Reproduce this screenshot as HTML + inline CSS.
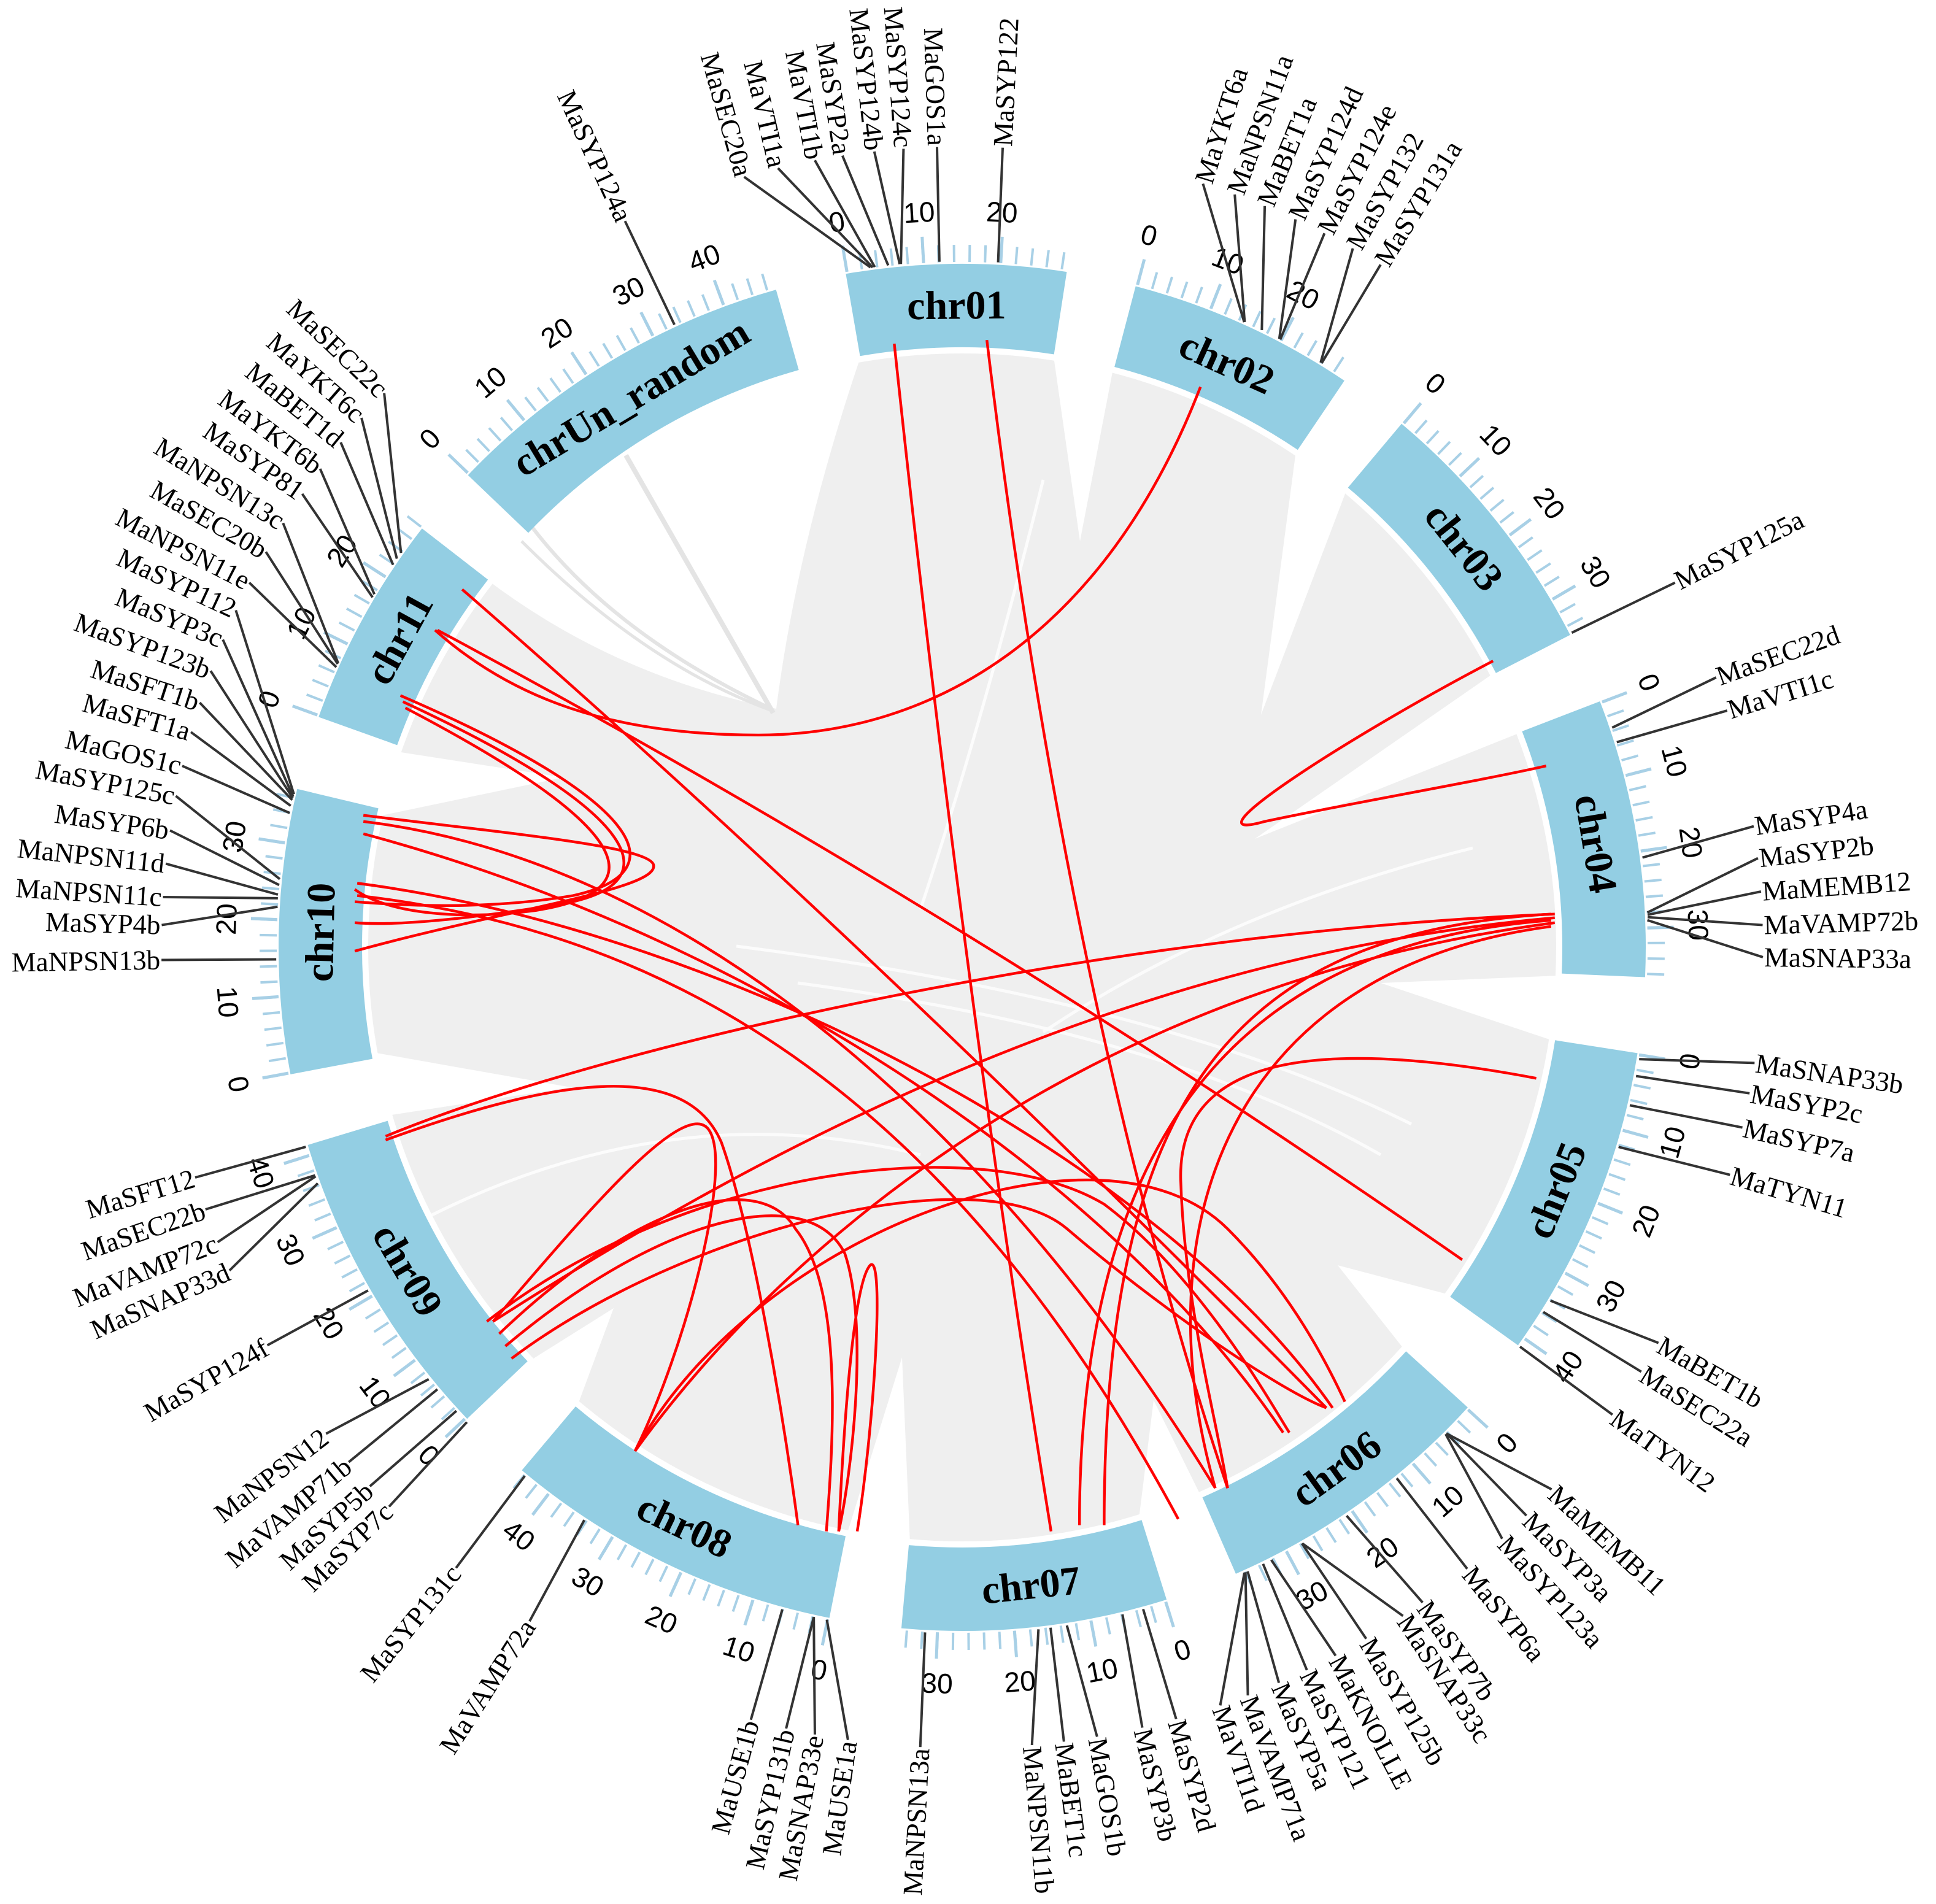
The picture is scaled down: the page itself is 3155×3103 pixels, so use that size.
<!DOCTYPE html>
<html><head><meta charset="utf-8"><style>
html,body{margin:0;padding:0;background:#fff}
svg{display:block}
.g{font-family:"Liberation Serif",serif;font-size:45px;fill:#000}
.t{font-family:"Liberation Sans",sans-serif;font-size:46px;fill:#000}
.c{font-family:"Liberation Serif",serif;font-size:66px;font-weight:bold;fill:#000}
.ln{stroke:#333;stroke-width:4;fill:none}
.blk{fill:none;stroke:#93cee3;stroke-width:136}
.ts{fill:none;stroke:#a8d0e6;stroke-width:28}
.tl{fill:none;stroke:#a8d0e6;stroke-width:43}
.rd{fill:none;stroke:#f00;stroke-width:2.2}
</style></head><body>
<svg xmlns="http://www.w3.org/2000/svg" width="3155" height="3103" viewBox="0 0 3155 3103">
<rect width="3155" height="3103" fill="#fff"/>
<!-- ribbons background -->
<circle cx="1568" cy="1544" r="968" fill="#efefef"/>
<g fill="#fff">
<path d="M1717,581 L1760,882 L1814,601 Z"/>
<path d="M2112,735 L2055,1165 L2195,797 Z"/>
<path d="M2430,1100 L2045,1367 L2475,1195 Z"/>
<path d="M2540,1590 L2250,1602 L2528,1695 Z"/>
<path d="M2362,2110 L2180,2062 L2289,2200 Z"/>
<path d="M1957,2438 L1880,2282 L1856,2475 Z"/>
<path d="M1483,2515 L1470,2212 L1380,2501 Z"/>
<path d="M941,2291 L1000,2132 L863,2218 Z"/>
<path d="M632,1818 L930,1772 L608,1715 Z"/>
<path d="M617,1330 L918,1267 L647,1225 Z"/>
<path d="M790,942 Q1000,1102 1265,1155 Q1300,882 1404,577 L1240,602 L1066,702 L900,822 Z"/>
</g>
<g fill="none" stroke="#e4e4e4">
<path d="M1020,742 L1260,1162" stroke-width="8"/>
<path d="M867,859 Q1000,1032 1250,1152" stroke-width="6"/>
<path d="M850,882 Q1050,1082 1255,1157" stroke-width="5"/>
</g>
<g fill="none" stroke="#fff" stroke-width="5" opacity="0.8">
<path d="M2250,1882 Q1900,1682 1300,1602"/>
<path d="M2300,1832 Q1900,1632 1200,1542"/>
<path d="M700,1982 Q1100,1782 1500,1882"/>
<path d="M1700,782 Q1600,1182 1500,1482"/>
<path d="M2400,1382 Q2000,1482 1700,1682"/>
</g>

<!-- chromosome blocks -->
<g>
<circle class="blk" cx="1568" cy="1544" r="1046" stroke-dasharray="339.6 9000" transform="rotate(-99.8 1568 1544)"/>
<circle class="blk" cx="1568" cy="1544" r="1046" stroke-dasharray="352.3 9000" transform="rotate(-75.3 1568 1544)"/>
<circle class="blk" cx="1568" cy="1544" r="1046" stroke-dasharray="416.2 9000" transform="rotate(-50 1568 1544)"/>
<circle class="blk" cx="1568" cy="1544" r="1046" stroke-dasharray="430.8 9000" transform="rotate(-21.1 1568 1544)"/>
<circle class="blk" cx="1568" cy="1544" r="1046" stroke-dasharray="487.4 9000" transform="rotate(8.9 1568 1544)"/>
<circle class="blk" cx="1568" cy="1544" r="1046" stroke-dasharray="440.0 9000" transform="rotate(42.3 1568 1544)"/>
<circle class="blk" cx="1568" cy="1544" r="1046" stroke-dasharray="410.8 9000" transform="rotate(72.6 1568 1544)"/>
<circle class="blk" cx="1568" cy="1544" r="1046" stroke-dasharray="527.6 9000" transform="rotate(101.2 1568 1544)"/>
<circle class="blk" cx="1568" cy="1544" r="1046" stroke-dasharray="489.3 9000" transform="rotate(136.4 1568 1544)"/>
<circle class="blk" cx="1568" cy="1544" r="1046" stroke-dasharray="440.0 9000" transform="rotate(169.3 1568 1544)"/>
<circle class="blk" cx="1568" cy="1544" r="1046" stroke-dasharray="330.4 9000" transform="rotate(199.7 1568 1544)"/>
<circle class="blk" cx="1568" cy="1544" r="1046" stroke-dasharray="556.8 9000" transform="rotate(223.7 1568 1544)"/>
</g>

<!-- short ticks -->
<g>
<circle class="ts" cx="1568" cy="1544" r="1131" transform="rotate(-99.8 1568 1544)" stroke-dasharray="4 21.46 4 21.46 4 21.46 4 21.46 4 21.46 4 21.46 4 21.46 4 21.46 4 21.46 4 21.46 4 21.46 4 21.46 4 21.46 4 21.46 4 9000"/>
<circle class="ts" cx="1568" cy="1544" r="1131" transform="rotate(-75.3 1568 1544)" stroke-dasharray="4 21.46 4 21.46 4 21.46 4 21.46 4 21.46 4 21.46 4 21.46 4 21.46 4 21.46 4 21.46 4 21.46 4 21.46 4 21.46 4 21.46 4 9000"/>
<circle class="ts" cx="1568" cy="1544" r="1131" transform="rotate(-50 1568 1544)" stroke-dasharray="4 21.46 4 21.46 4 21.46 4 21.46 4 21.46 4 21.46 4 21.46 4 21.46 4 21.46 4 21.46 4 21.46 4 21.46 4 21.46 4 21.46 4 21.46 4 21.46 4 21.46 4 9000"/>
<circle class="ts" cx="1568" cy="1544" r="1131" transform="rotate(-21.1 1568 1544)" stroke-dasharray="4 21.46 4 21.46 4 21.46 4 21.46 4 21.46 4 21.46 4 21.46 4 21.46 4 21.46 4 21.46 4 21.46 4 21.46 4 21.46 4 21.46 4 21.46 4 21.46 4 21.46 4 21.46 4 9000"/>
<circle class="ts" cx="1568" cy="1544" r="1131" transform="rotate(8.9 1568 1544)" stroke-dasharray="4 21.46 4 21.46 4 21.46 4 21.46 4 21.46 4 21.46 4 21.46 4 21.46 4 21.46 4 21.46 4 21.46 4 21.46 4 21.46 4 21.46 4 21.46 4 21.46 4 21.46 4 21.46 4 21.46 4 21.46 4 9000"/>
<circle class="ts" cx="1568" cy="1544" r="1131" transform="rotate(42.3 1568 1544)" stroke-dasharray="4 21.46 4 21.46 4 21.46 4 21.46 4 21.46 4 21.46 4 21.46 4 21.46 4 21.46 4 21.46 4 21.46 4 21.46 4 21.46 4 21.46 4 21.46 4 21.46 4 21.46 4 21.46 4 9000"/>
<circle class="ts" cx="1568" cy="1544" r="1131" transform="rotate(72.6 1568 1544)" stroke-dasharray="4 21.46 4 21.46 4 21.46 4 21.46 4 21.46 4 21.46 4 21.46 4 21.46 4 21.46 4 21.46 4 21.46 4 21.46 4 21.46 4 21.46 4 21.46 4 21.46 4 21.46 4 9000"/>
<circle class="ts" cx="1568" cy="1544" r="1131" transform="rotate(101.2 1568 1544)" stroke-dasharray="4 21.46 4 21.46 4 21.46 4 21.46 4 21.46 4 21.46 4 21.46 4 21.46 4 21.46 4 21.46 4 21.46 4 21.46 4 21.46 4 21.46 4 21.46 4 21.46 4 21.46 4 21.46 4 21.46 4 21.46 4 21.46 4 21.46 4 9000"/>
<circle class="ts" cx="1568" cy="1544" r="1131" transform="rotate(136.4 1568 1544)" stroke-dasharray="4 21.46 4 21.46 4 21.46 4 21.46 4 21.46 4 21.46 4 21.46 4 21.46 4 21.46 4 21.46 4 21.46 4 21.46 4 21.46 4 21.46 4 21.46 4 21.46 4 21.46 4 21.46 4 21.46 4 21.46 4 9000"/>
<circle class="ts" cx="1568" cy="1544" r="1131" transform="rotate(169.3 1568 1544)" stroke-dasharray="4 21.46 4 21.46 4 21.46 4 21.46 4 21.46 4 21.46 4 21.46 4 21.46 4 21.46 4 21.46 4 21.46 4 21.46 4 21.46 4 21.46 4 21.46 4 21.46 4 21.46 4 21.46 4 9000"/>
<circle class="ts" cx="1568" cy="1544" r="1131" transform="rotate(199.7 1568 1544)" stroke-dasharray="4 21.46 4 21.46 4 21.46 4 21.46 4 21.46 4 21.46 4 21.46 4 21.46 4 21.46 4 21.46 4 21.46 4 21.46 4 21.46 4 21.46 4 9000"/>
<circle class="ts" cx="1568" cy="1544" r="1131" transform="rotate(223.7 1568 1544)" stroke-dasharray="4 21.46 4 21.46 4 21.46 4 21.46 4 21.46 4 21.46 4 21.46 4 21.46 4 21.46 4 21.46 4 21.46 4 21.46 4 21.46 4 21.46 4 21.46 4 21.46 4 21.46 4 21.46 4 21.46 4 21.46 4 21.46 4 21.46 4 21.46 4 9000"/>
</g>
<!-- long ticks -->
<g>
<circle class="tl" cx="1568" cy="1544" r="1138.5" transform="rotate(-99.8 1568 1544)" stroke-dasharray="5 123.16 5 123.16 5 9000"/>
<circle class="tl" cx="1568" cy="1544" r="1138.5" transform="rotate(-75.3 1568 1544)" stroke-dasharray="5 123.16 5 123.16 5 9000"/>
<circle class="tl" cx="1568" cy="1544" r="1138.5" transform="rotate(-50 1568 1544)" stroke-dasharray="5 123.16 5 123.16 5 123.16 5 9000"/>
<circle class="tl" cx="1568" cy="1544" r="1138.5" transform="rotate(-21.1 1568 1544)" stroke-dasharray="5 123.16 5 123.16 5 123.16 5 9000"/>
<circle class="tl" cx="1568" cy="1544" r="1138.5" transform="rotate(8.9 1568 1544)" stroke-dasharray="5 123.16 5 123.16 5 123.16 5 123.16 5 9000"/>
<circle class="tl" cx="1568" cy="1544" r="1138.5" transform="rotate(42.3 1568 1544)" stroke-dasharray="5 123.16 5 123.16 5 123.16 5 9000"/>
<circle class="tl" cx="1568" cy="1544" r="1138.5" transform="rotate(72.6 1568 1544)" stroke-dasharray="5 123.16 5 123.16 5 123.16 5 9000"/>
<circle class="tl" cx="1568" cy="1544" r="1138.5" transform="rotate(101.2 1568 1544)" stroke-dasharray="5 123.16 5 123.16 5 123.16 5 123.16 5 9000"/>
<circle class="tl" cx="1568" cy="1544" r="1138.5" transform="rotate(136.4 1568 1544)" stroke-dasharray="5 123.16 5 123.16 5 123.16 5 123.16 5 9000"/>
<circle class="tl" cx="1568" cy="1544" r="1138.5" transform="rotate(169.3 1568 1544)" stroke-dasharray="5 123.16 5 123.16 5 123.16 5 9000"/>
<circle class="tl" cx="1568" cy="1544" r="1138.5" transform="rotate(199.7 1568 1544)" stroke-dasharray="5 123.16 5 123.16 5 9000"/>
<circle class="tl" cx="1568" cy="1544" r="1138.5" transform="rotate(223.7 1568 1544)" stroke-dasharray="5 123.16 5 123.16 5 123.16 5 123.16 5 9000"/>
</g>

<!-- red links -->
<g transform="translate(1568 1544) scale(2.012) translate(-785 -772)" class="rd">
<path d="M730,283 Q785,800 857,1245"/>
<path d="M805,280 Q870,820 1000,1210"/>
<path d="M978,318 C900,520 760,600 620,600 C500,600 420,570 358,515"/>
<path d="M1215,540 C1100,600 960,690 1030,670 C1100,655 1200,638 1258,625"/>
<path d="M360,515 Q780,740 1190,1025"/>
<path d="M380,482 Q700,760 1080,1145"/>
<path d="M330,568 C520,650 560,710 470,730 C400,742 330,738 293,735"/>
<path d="M332,573 C520,660 555,720 460,737 C390,748 330,755 293,752"/>
<path d="M334,578 C510,670 545,725 440,742 C380,750 320,745 293,725"/>
<path d="M300,665 C420,680 530,690 535,705 C540,725 420,740 293,775"/>
<path d="M300,680 C600,760 900,950 1045,1165"/>
<path d="M295,720 C600,760 950,950 1085,1145"/>
<path d="M295,730 C560,760 780,900 960,1235"/>
<path d="M300,670 C550,700 800,900 990,1210"/>
<path d="M1265,745 C900,760 500,850 318,925"/>
<path d="M1265,748 C900,780 600,950 405,1075"/>
<path d="M1265,752 C900,800 650,1000 520,1180"/>
<path d="M1262,745 C1000,760 900,900 900,1240"/>
<path d="M1262,750 C990,770 880,950 880,1240"/>
<path d="M1262,755 C1000,790 930,1000 990,1210"/>
<path d="M1250,878 C1050,840 960,870 962,960 C965,1060 990,1150 1000,1210"/>
<path d="M318,928 C450,880 560,860 590,930 C615,1000 640,1150 652,1240"/>
<path d="M405,1075 C470,1000 560,890 580,920 C600,950 560,1100 520,1180"/>
<path d="M410,1085 C520,980 620,950 650,1000 C690,1050 680,1180 675,1245"/>
<path d="M415,1095 C540,990 660,960 690,1020 C710,1080 695,1200 685,1245"/>
<path d="M420,1105 C560,1000 800,940 870,1000 C940,1060 1040,1130 1080,1145"/>
<path d="M400,1075 C560,950 800,920 900,980 C980,1040 1040,1150 1050,1165"/>
<path d="M700,1245 C715,1150 722,1015 710,1030 C698,1045 690,1140 685,1245"/>
<path d="M520,1180 C620,1000 900,900 1000,1000 C1060,1060 1090,1130 1095,1140"/>
</g>

<!-- chromosome names -->
<g class="c" text-anchor="middle" dominant-baseline="central">
<text x="1568" y="498" transform="rotate(-0.5 1568 1544)">chr01</text>
<text x="1568" y="498" transform="rotate(24.35 1568 1544)">chr02</text>
<text x="1568" y="498" transform="rotate(51.4 1568 1544)">chr03</text>
<text x="1568" y="498" transform="rotate(80.7 1568 1544)">chr04</text>
<text x="1568" y="498" transform="rotate(112.25 1568 1544) rotate(180 1568 498)">chr05</text>
<text x="1568" y="498" transform="rotate(144.35 1568 1544) rotate(180 1568 498)">chr06</text>
<text x="1568" y="498" transform="rotate(173.85 1568 1544) rotate(180 1568 498)">chr07</text>
<text x="1568" y="498" transform="rotate(205.65 1568 1544) rotate(180 1568 498)">chr08</text>
<text x="1568" y="498" transform="rotate(239.8 1568 1544) rotate(180 1568 498)">chr09</text>
<text x="1568" y="498" transform="rotate(271.35 1568 1544)">chr10</text>
<text x="1568" y="498" transform="rotate(298.75 1568 1544)">chr11</text>
<text x="1568" y="498" transform="rotate(328.95 1568 1544)">chrUn_random</text>
</g>

<!-- tick numbers -->
<g class="t" text-anchor="middle" dominant-baseline="central">
<text x="1568" y="344" transform="rotate(-9.8 1568 1544)">0</text>
<text x="1568" y="344" transform="rotate(-3.35 1568 1544)">10</text>
<text x="1568" y="344" transform="rotate(3.1 1568 1544)">20</text>
<text x="1568" y="344" transform="rotate(14.7 1568 1544)">0</text>
<text x="1568" y="344" transform="rotate(21.15 1568 1544)">10</text>
<text x="1568" y="344" transform="rotate(27.6 1568 1544)">20</text>
<text x="1568" y="344" transform="rotate(40 1568 1544)">0</text>
<text x="1568" y="344" transform="rotate(46.45 1568 1544)">10</text>
<text x="1568" y="344" transform="rotate(52.9 1568 1544)">20</text>
<text x="1568" y="344" transform="rotate(59.35 1568 1544)">30</text>
<text x="1568" y="344" transform="rotate(68.9 1568 1544)">0</text>
<text x="1568" y="344" transform="rotate(75.35 1568 1544)">10</text>
<text x="1568" y="344" transform="rotate(81.8 1568 1544)">20</text>
<text x="1568" y="344" transform="rotate(88.25 1568 1544)">30</text>
<text x="1568" y="344" transform="rotate(98.9 1568 1544) rotate(180 1568 344)">0</text>
<text x="1568" y="344" transform="rotate(105.35 1568 1544) rotate(180 1568 344)">10</text>
<text x="1568" y="344" transform="rotate(111.8 1568 1544) rotate(180 1568 344)">20</text>
<text x="1568" y="344" transform="rotate(118.25 1568 1544) rotate(180 1568 344)">30</text>
<text x="1568" y="344" transform="rotate(124.7 1568 1544) rotate(180 1568 344)">40</text>
<text x="1568" y="344" transform="rotate(132.3 1568 1544) rotate(180 1568 344)">0</text>
<text x="1568" y="344" transform="rotate(138.75 1568 1544) rotate(180 1568 344)">10</text>
<text x="1568" y="344" transform="rotate(145.2 1568 1544) rotate(180 1568 344)">20</text>
<text x="1568" y="344" transform="rotate(151.65 1568 1544) rotate(180 1568 344)">30</text>
<text x="1568" y="344" transform="rotate(162.6 1568 1544) rotate(180 1568 344)">0</text>
<text x="1568" y="344" transform="rotate(169.05 1568 1544) rotate(180 1568 344)">10</text>
<text x="1568" y="344" transform="rotate(175.5 1568 1544) rotate(180 1568 344)">20</text>
<text x="1568" y="344" transform="rotate(181.95 1568 1544) rotate(180 1568 344)">30</text>
<text x="1568" y="344" transform="rotate(191.2 1568 1544) rotate(180 1568 344)">0</text>
<text x="1568" y="344" transform="rotate(197.65 1568 1544) rotate(180 1568 344)">10</text>
<text x="1568" y="344" transform="rotate(204.1 1568 1544) rotate(180 1568 344)">20</text>
<text x="1568" y="344" transform="rotate(210.55 1568 1544) rotate(180 1568 344)">30</text>
<text x="1568" y="344" transform="rotate(217 1568 1544) rotate(180 1568 344)">40</text>
<text x="1568" y="344" transform="rotate(226.4 1568 1544) rotate(180 1568 344)">0</text>
<text x="1568" y="344" transform="rotate(232.85 1568 1544) rotate(180 1568 344)">10</text>
<text x="1568" y="344" transform="rotate(239.3 1568 1544) rotate(180 1568 344)">20</text>
<text x="1568" y="344" transform="rotate(245.75 1568 1544) rotate(180 1568 344)">30</text>
<text x="1568" y="344" transform="rotate(252.2 1568 1544) rotate(180 1568 344)">40</text>
<text x="1568" y="344" transform="rotate(259.3 1568 1544) rotate(180 1568 344)">0</text>
<text x="1568" y="344" transform="rotate(265.75 1568 1544) rotate(180 1568 344)">10</text>
<text x="1568" y="344" transform="rotate(272.2 1568 1544)">20</text>
<text x="1568" y="344" transform="rotate(278.65 1568 1544)">30</text>
<text x="1568" y="344" transform="rotate(289.7 1568 1544)">0</text>
<text x="1568" y="344" transform="rotate(296.15 1568 1544)">10</text>
<text x="1568" y="344" transform="rotate(302.6 1568 1544)">20</text>
<text x="1568" y="344" transform="rotate(313.7 1568 1544)">0</text>
<text x="1568" y="344" transform="rotate(320.15 1568 1544)">10</text>
<text x="1568" y="344" transform="rotate(326.6 1568 1544)">20</text>
<text x="1568" y="344" transform="rotate(333.05 1568 1544)">30</text>
<text x="1568" y="344" transform="rotate(339.5 1568 1544)">40</text>
</g>

<!-- gene labels: right side (read outward) -->
<g class="g" dominant-baseline="central">
<g transform="rotate(2.9 1568 1544)"><line class="ln" x1="1568" y1="239" x2="1570" y2="426"/><text x="1568" y="237" transform="rotate(-90 1568 237)">MaSYP122</text></g>
<g transform="rotate(17.5 1568 1544)"><line class="ln" x1="1568" y1="239" x2="1700" y2="434"/><text x="1568" y="237" transform="rotate(-90 1568 237)">MaYKT6a</text></g>
<g transform="rotate(19.9 1568 1544)"><line class="ln" x1="1568" y1="239" x2="1654" y2="429"/><text x="1568" y="237" transform="rotate(-90 1568 237)">MaNPSN11a</text></g>
<g transform="rotate(22.2 1568 1544)"><line class="ln" x1="1568" y1="239" x2="1640" y2="428"/><text x="1568" y="237" transform="rotate(-90 1568 237)">MaBET1a</text></g>
<g transform="rotate(24.6 1568 1544)"><line class="ln" x1="1568" y1="239" x2="1625" y2="427"/><text x="1568" y="237" transform="rotate(-90 1568 237)">MaSYP124d</text></g>
<g transform="rotate(26.9 1568 1544)"><line class="ln" x1="1568" y1="239" x2="1582" y2="426"/><text x="1568" y="237" transform="rotate(-90 1568 237)">MaSYP124e</text></g>
<g transform="rotate(29.2 1568 1544)"><line class="ln" x1="1568" y1="239" x2="1613" y2="427"/><text x="1568" y="237" transform="rotate(-90 1568 237)">MaSYP132</text></g>
<g transform="rotate(31.5 1568 1544)"><line class="ln" x1="1568" y1="239" x2="1570" y2="426"/><text x="1568" y="237" transform="rotate(-90 1568 237)">MaSYP131a</text></g>
<g transform="rotate(62.9 1568 1544)"><line class="ln" x1="1568" y1="239" x2="1564" y2="426"/><text x="1568" y="237" transform="rotate(-90 1568 237)">MaSYP125a</text></g>
<g transform="rotate(70.3 1568 1544)"><line class="ln" x1="1568" y1="239" x2="1588" y2="426"/><text x="1568" y="237" transform="rotate(-90 1568 237)">MaSEC22d</text></g>
<g transform="rotate(72.8 1568 1544)"><line class="ln" x1="1568" y1="239" x2="1564" y2="426"/><text x="1568" y="237" transform="rotate(-90 1568 237)">MaVTI1c</text></g>
<g transform="rotate(81.3 1568 1544)"><line class="ln" x1="1568" y1="239" x2="1591" y2="426"/><text x="1568" y="237" transform="rotate(-90 1568 237)">MaSYP4a</text></g>
<g transform="rotate(83.6 1568 1544)"><line class="ln" x1="1568" y1="239" x2="1636" y2="428"/><text x="1568" y="237" transform="rotate(-90 1568 237)">MaSYP2b</text></g>
<g transform="rotate(86.0 1568 1544)"><line class="ln" x1="1568" y1="239" x2="1593" y2="426"/><text x="1568" y="237" transform="rotate(-90 1568 237)">MaMEMB12</text></g>
<g transform="rotate(88.4 1568 1544)"><line class="ln" x1="1568" y1="239" x2="1550" y2="426"/><text x="1568" y="237" transform="rotate(-90 1568 237)">MaVAMP72b</text></g>
<g transform="rotate(90.7 1568 1544)"><line class="ln" x1="1568" y1="239" x2="1510" y2="428"/><text x="1568" y="237" transform="rotate(-90 1568 237)">MaSNAP33a</text></g>
<g transform="rotate(98.3 1568 1544)"><line class="ln" x1="1568" y1="239" x2="1589" y2="426"/><text x="1568" y="237" transform="rotate(-90 1568 237)">MaSNAP33b</text></g>
<g transform="rotate(100.5 1568 1544)"><line class="ln" x1="1568" y1="239" x2="1574" y2="426"/><text x="1568" y="237" transform="rotate(-90 1568 237)">MaSYP2c</text></g>
<g transform="rotate(103.0 1568 1544)"><line class="ln" x1="1568" y1="239" x2="1574" y2="426"/><text x="1568" y="237" transform="rotate(-90 1568 237)">MaSYP7a</text></g>
<g transform="rotate(106.5 1568 1544)"><line class="ln" x1="1568" y1="239" x2="1576" y2="426"/><text x="1568" y="237" transform="rotate(-90 1568 237)">MaTYN11</text></g>
<g transform="rotate(119.6 1568 1544)"><line class="ln" x1="1568" y1="239" x2="1595" y2="426"/><text x="1568" y="237" transform="rotate(-90 1568 237)">MaBET1b</text></g>
<g transform="rotate(122.0 1568 1544)"><line class="ln" x1="1568" y1="239" x2="1570" y2="426"/><text x="1568" y="237" transform="rotate(-90 1568 237)">MaSEC22a</text></g>
<g transform="rotate(125.7 1568 1544)"><line class="ln" x1="1568" y1="239" x2="1566" y2="426"/><text x="1568" y="237" transform="rotate(-90 1568 237)">MaTYN12</text></g>
<g transform="rotate(132.6 1568 1544)"><line class="ln" x1="1568" y1="239" x2="1617" y2="427"/><text x="1568" y="237" transform="rotate(-90 1568 237)">MaMEMB11</text></g>
<g transform="rotate(135.2 1568 1544)"><line class="ln" x1="1568" y1="239" x2="1566" y2="426"/><text x="1568" y="237" transform="rotate(-90 1568 237)">MaSYP3a</text></g>
<g transform="rotate(137.6 1568 1544)"><line class="ln" x1="1568" y1="239" x2="1521" y2="427"/><text x="1568" y="237" transform="rotate(-90 1568 237)">MaSYP123a</text></g>
<g transform="rotate(140.9 1568 1544)"><line class="ln" x1="1568" y1="239" x2="1564" y2="426"/><text x="1568" y="237" transform="rotate(-90 1568 237)">MaSYP6a</text></g>
<g transform="rotate(144.9 1568 1544)"><line class="ln" x1="1568" y1="239" x2="1588" y2="426"/><text x="1568" y="237" transform="rotate(-90 1568 237)">MaSYP7b</text></g>
<g transform="rotate(146.6 1568 1544)"><line class="ln" x1="1568" y1="239" x2="1640" y2="428"/><text x="1568" y="237" transform="rotate(-90 1568 237)">MaSNAP33c</text></g>
<g transform="rotate(149.7 1568 1544)"><line class="ln" x1="1568" y1="239" x2="1580" y2="426"/><text x="1568" y="237" transform="rotate(-90 1568 237)">MaSYP125b</text></g>
<g transform="rotate(152.2 1568 1544)"><line class="ln" x1="1568" y1="239" x2="1588" y2="426"/><text x="1568" y="237" transform="rotate(-90 1568 237)">MaKNOLLE</text></g>
<g transform="rotate(154.5 1568 1544)"><line class="ln" x1="1568" y1="239" x2="1558" y2="426"/><text x="1568" y="237" transform="rotate(-90 1568 237)">MaSYP121</text></g>
<g transform="rotate(156.7 1568 1544)"><line class="ln" x1="1568" y1="239" x2="1543" y2="426"/><text x="1568" y="237" transform="rotate(-90 1568 237)">MaSYP5a</text></g>
<g transform="rotate(159.1 1568 1544)"><line class="ln" x1="1568" y1="239" x2="1500" y2="428"/><text x="1568" y="237" transform="rotate(-90 1568 237)">MaVAMP71a</text></g>
<g transform="rotate(161.2 1568 1544)"><line class="ln" x1="1568" y1="239" x2="1461" y2="431"/><text x="1568" y="237" transform="rotate(-90 1568 237)">MaVTI1d</text></g>
<g transform="rotate(164.5 1568 1544)"><line class="ln" x1="1568" y1="239" x2="1572" y2="426"/><text x="1568" y="237" transform="rotate(-90 1568 237)">MaSYP2d</text></g>
<g transform="rotate(167.0 1568 1544)"><line class="ln" x1="1568" y1="239" x2="1558" y2="426"/><text x="1568" y="237" transform="rotate(-90 1568 237)">MaSYP3b</text></g>
<g transform="rotate(170.3 1568 1544)"><line class="ln" x1="1568" y1="239" x2="1586" y2="426"/><text x="1568" y="237" transform="rotate(-90 1568 237)">MaGOS1b</text></g>
<g transform="rotate(172.7 1568 1544)"><line class="ln" x1="1568" y1="239" x2="1566" y2="426"/><text x="1568" y="237" transform="rotate(-90 1568 237)">MaBET1c</text></g>
<g transform="rotate(175.0 1568 1544)"><line class="ln" x1="1568" y1="239" x2="1541" y2="426"/><text x="1568" y="237" transform="rotate(-90 1568 237)">MaNPSN11b</text></g>
</g>

<!-- gene labels: left side (read inward) -->
<g class="g" dominant-baseline="central" text-anchor="end">
<g transform="rotate(183.0 1568 1544)"><line class="ln" x1="1568" y1="239" x2="1570" y2="426"/><text x="1568" y="237" transform="rotate(90 1568 237)">MaNPSN13a</text></g>
<g transform="rotate(188.2 1568 1544)"><line class="ln" x1="1568" y1="239" x2="1630" y2="428"/><text x="1568" y="237" transform="rotate(90 1568 237)">MaUSE1a</text></g>
<g transform="rotate(190.6 1568 1544)"><line class="ln" x1="1568" y1="239" x2="1605" y2="427"/><text x="1568" y="237" transform="rotate(90 1568 237)">MaSNAP33e</text></g>
<g transform="rotate(192.7 1568 1544)"><line class="ln" x1="1568" y1="239" x2="1564" y2="426"/><text x="1568" y="237" transform="rotate(90 1568 237)">MaSYP131b</text></g>
<g transform="rotate(195.3 1568 1544)"><line class="ln" x1="1568" y1="239" x2="1566" y2="426"/><text x="1568" y="237" transform="rotate(90 1568 237)">MaUSE1b</text></g>
<g transform="rotate(212.7 1568 1544)"><line class="ln" x1="1568" y1="239" x2="1582" y2="426"/><text x="1568" y="237" transform="rotate(90 1568 237)">MaVAMP72a</text></g>
<g transform="rotate(219.2 1568 1544)"><line class="ln" x1="1568" y1="239" x2="1576" y2="426"/><text x="1568" y="237" transform="rotate(90 1568 237)">MaSYP131c</text></g>
<g transform="rotate(225.7 1568 1544)"><line class="ln" x1="1568" y1="239" x2="1578" y2="426"/><text x="1568" y="237" transform="rotate(90 1568 237)">MaSYP7c</text></g>
<g transform="rotate(227.7 1568 1544)"><line class="ln" x1="1568" y1="239" x2="1564" y2="426"/><text x="1568" y="237" transform="rotate(90 1568 237)">MaSYP5b</text></g>
<g transform="rotate(230.0 1568 1544)"><line class="ln" x1="1568" y1="239" x2="1566" y2="426"/><text x="1568" y="237" transform="rotate(90 1568 237)">MaVAMP71b</text></g>
<g transform="rotate(232.6 1568 1544)"><line class="ln" x1="1568" y1="239" x2="1537" y2="426"/><text x="1568" y="237" transform="rotate(90 1568 237)">MaNPSN12</text></g>
<g transform="rotate(240.2 1568 1544)"><line class="ln" x1="1568" y1="239" x2="1564" y2="426"/><text x="1568" y="237" transform="rotate(90 1568 237)">MaSYP124f</text></g>
<g transform="rotate(246.2 1568 1544)"><line class="ln" x1="1568" y1="239" x2="1640" y2="428"/><text x="1568" y="237" transform="rotate(90 1568 237)">MaSNAP33d</text></g>
<g transform="rotate(248.4 1568 1544)"><line class="ln" x1="1568" y1="239" x2="1609" y2="427"/><text x="1568" y="237" transform="rotate(90 1568 237)">MaVAMP72c</text></g>
<g transform="rotate(250.9 1568 1544)"><line class="ln" x1="1568" y1="239" x2="1562" y2="426"/><text x="1568" y="237" transform="rotate(90 1568 237)">MaSEC22b</text></g>
<g transform="rotate(253.3 1568 1544)"><line class="ln" x1="1568" y1="239" x2="1564" y2="426"/><text x="1568" y="237" transform="rotate(90 1568 237)">MaSFT12</text></g>
<g transform="rotate(269.1 1568 1544)"><line class="ln" x1="1568" y1="239" x2="1566" y2="426"/><text x="1568" y="237" transform="rotate(90 1568 237)">MaNPSN13b</text></g>
<g transform="rotate(271.6 1568 1544)"><line class="ln" x1="1568" y1="239" x2="1603" y2="427"/><text x="1568" y="237" transform="rotate(90 1568 237)">MaSYP4b</text></g>
<g transform="rotate(273.6 1568 1544)"><line class="ln" x1="1568" y1="239" x2="1578" y2="426"/><text x="1568" y="237" transform="rotate(90 1568 237)">MaNPSN11c</text></g>
<g transform="rotate(276.0 1568 1544)"><line class="ln" x1="1568" y1="239" x2="1537" y2="426"/><text x="1568" y="237" transform="rotate(90 1568 237)">MaNPSN11d</text></g>
<g transform="rotate(278.4 1568 1544)"><line class="ln" x1="1568" y1="239" x2="1506" y2="428"/><text x="1568" y="237" transform="rotate(90 1568 237)">MaSYP6b</text></g>
<g transform="rotate(280.9 1568 1544)"><line class="ln" x1="1568" y1="239" x2="1467" y2="431"/><text x="1568" y="237" transform="rotate(90 1568 237)">MaSYP125c</text></g>
<g transform="rotate(283.1 1568 1544)"><line class="ln" x1="1568" y1="239" x2="1533" y2="427"/><text x="1568" y="237" transform="rotate(90 1568 237)">MaGOS1c</text></g>
<g transform="rotate(285.6 1568 1544)"><line class="ln" x1="1568" y1="239" x2="1496" y2="428"/><text x="1568" y="237" transform="rotate(90 1568 237)">MaSFT1a</text></g>
<g transform="rotate(287.8 1568 1544)"><line class="ln" x1="1568" y1="239" x2="1463" y2="431"/><text x="1568" y="237" transform="rotate(90 1568 237)">MaSFT1b</text></g>
<g transform="rotate(290.2 1568 1544)"><line class="ln" x1="1568" y1="239" x2="1420" y2="436"/><text x="1568" y="237" transform="rotate(90 1568 237)">MaSYP123b</text></g>
<g transform="rotate(292.6 1568 1544)"><line class="ln" x1="1568" y1="239" x2="1376" y2="443"/><text x="1568" y="237" transform="rotate(90 1568 237)">MaSYP3c</text></g>
<g transform="rotate(294.9 1568 1544)"><line class="ln" x1="1568" y1="239" x2="1336" y2="451"/><text x="1568" y="237" transform="rotate(90 1568 237)">MaSYP112</text></g>
<g transform="rotate(297.1 1568 1544)"><line class="ln" x1="1568" y1="239" x2="1510" y2="428"/><text x="1568" y="237" transform="rotate(90 1568 237)">MaNPSN11e</text></g>
<g transform="rotate(299.6 1568 1544)"><line class="ln" x1="1568" y1="239" x2="1467" y2="431"/><text x="1568" y="237" transform="rotate(90 1568 237)">MaSEC20b</text></g>
<g transform="rotate(302.0 1568 1544)"><line class="ln" x1="1568" y1="239" x2="1422" y2="436"/><text x="1568" y="237" transform="rotate(90 1568 237)">MaNPSN13c</text></g>
<g transform="rotate(304.5 1568 1544)"><line class="ln" x1="1568" y1="239" x2="1494" y2="429"/><text x="1568" y="237" transform="rotate(90 1568 237)">MaSYP81</text></g>
<g transform="rotate(306.7 1568 1544)"><line class="ln" x1="1568" y1="239" x2="1457" y2="432"/><text x="1568" y="237" transform="rotate(90 1568 237)">MaYKT6b</text></g>
<g transform="rotate(309.1 1568 1544)"><line class="ln" x1="1568" y1="239" x2="1467" y2="431"/><text x="1568" y="237" transform="rotate(90 1568 237)">MaBET1d</text></g>
<g transform="rotate(311.4 1568 1544)"><line class="ln" x1="1568" y1="239" x2="1434" y2="434"/><text x="1568" y="237" transform="rotate(90 1568 237)">MaYKT6c</text></g>
<g transform="rotate(313.8 1568 1544)"><line class="ln" x1="1568" y1="239" x2="1399" y2="439"/><text x="1568" y="237" transform="rotate(90 1568 237)">MaSEC22c</text></g>
<g transform="rotate(335.1 1568 1544)"><line class="ln" x1="1568" y1="239" x2="1570" y2="426"/><text x="1568" y="237" transform="rotate(90 1568 237)">MaSYP124a</text></g>
<g transform="rotate(344.2 1568 1544)"><line class="ln" x1="1568" y1="239" x2="1726" y2="437"/><text x="1568" y="237" transform="rotate(90 1568 237)">MaSEC20a</text></g>
<g transform="rotate(346.7 1568 1544)"><line class="ln" x1="1568" y1="239" x2="1681" y2="432"/><text x="1568" y="237" transform="rotate(90 1568 237)">MaVTI1a</text></g>
<g transform="rotate(349.4 1568 1544)"><line class="ln" x1="1568" y1="239" x2="1632" y2="428"/><text x="1568" y="237" transform="rotate(90 1568 237)">MaVTI1b</text></g>
<g transform="rotate(351.4 1568 1544)"><line class="ln" x1="1568" y1="239" x2="1615" y2="427"/><text x="1568" y="237" transform="rotate(90 1568 237)">MaSYP2a</text></g>
<g transform="rotate(353.7 1568 1544)"><line class="ln" x1="1568" y1="239" x2="1589" y2="426"/><text x="1568" y="237" transform="rotate(90 1568 237)">MaSYP124b</text></g>
<g transform="rotate(355.8 1568 1544)"><line class="ln" x1="1568" y1="239" x2="1550" y2="426"/><text x="1568" y="237" transform="rotate(90 1568 237)">MaSYP124c</text></g>
<g transform="rotate(358.2 1568 1544)"><line class="ln" x1="1568" y1="239" x2="1566" y2="426"/><text x="1568" y="237" transform="rotate(90 1568 237)">MaGOS1a</text></g>
</g>
</svg>
</body></html>
